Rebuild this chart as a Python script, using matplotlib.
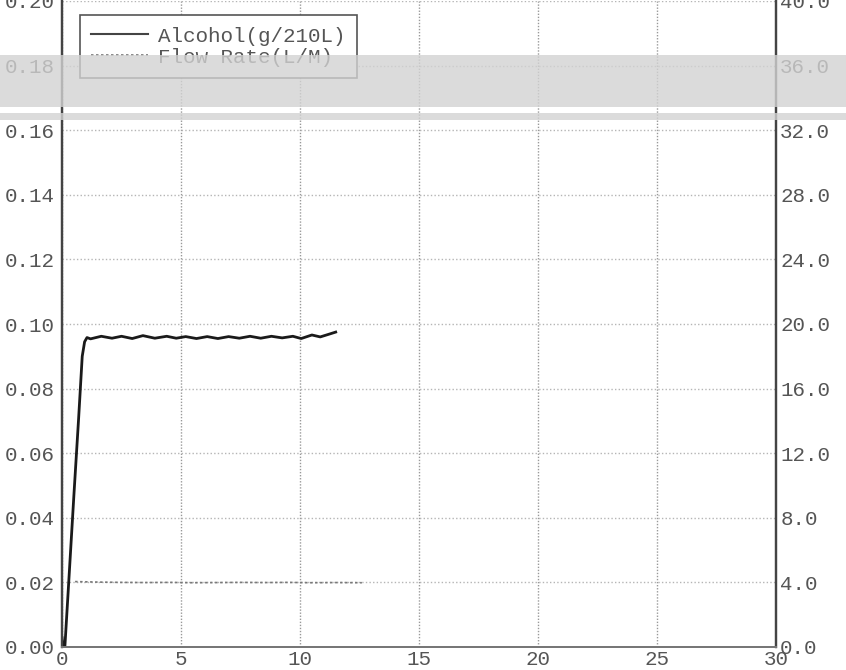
import matplotlib
matplotlib.use("Agg")
import matplotlib.pyplot as plt
from matplotlib.patches import Rectangle

# ---------------- data ----------------
alc_time = [0.0, 0.04, 0.12, 0.27, 0.5, 0.7, 0.85, 0.95, 1.05, 1.2,
            1.65, 2.1, 2.5, 2.95, 3.4, 3.9, 4.4, 4.8, 5.2, 5.65, 6.1, 6.55,
            7.0, 7.45, 7.9, 8.35, 8.8, 9.25, 9.7, 10.05, 10.5, 10.85, 11.2, 11.5]
alc_vals = [0.003, 0.0, 0.0, 0.0185, 0.047, 0.071, 0.090, 0.0945, 0.0958, 0.0954,
            0.0962, 0.0956, 0.0962, 0.0955, 0.0964, 0.0956, 0.0962, 0.0956, 0.0961, 0.0955,
            0.0961, 0.0955, 0.0961, 0.0956, 0.0962, 0.0956, 0.0962, 0.0957, 0.0962, 0.0955,
            0.0966, 0.0960, 0.0968, 0.0975]

flow_time = [0.55, 1.5, 2.5, 3.5, 4.5, 5.5, 6.5, 7.5, 8.5, 9.5, 10.5, 11.5, 12.6]
flow_vals = [4.05, 4.02, 4.00, 3.99, 4.00, 3.98, 3.99, 4.00, 3.99, 4.00, 3.98, 3.99, 3.98]

x_ticks = [0, 5, 10, 15, 20, 25, 30]
left_ticks = [0.00, 0.02, 0.04, 0.06, 0.08, 0.10, 0.12, 0.14, 0.16, 0.18, 0.20]
right_ticks = [0.0, 4.0, 8.0, 12.0, 16.0, 20.0, 24.0, 28.0, 32.0, 36.0, 40.0]
labels = ["Alcohol(g/210L)", "Flow Rate(L/M)"]

# ---------------- figure ----------------
mono = ["Liberation Mono", "DejaVu Sans Mono"]
plt.rcParams["font.family"] = mono
txt_col = "#555555"

fig = plt.figure(figsize=(8.46, 6.70), dpi=100)
ax = fig.add_axes([62 / 846, 1 - 647 / 670, 714 / 846, 646 / 670])
ax2 = ax.twinx()

l1, = ax.plot(alc_time, alc_vals, color="#1a1a1a", lw=2.0, zorder=5)
l2, = ax2.plot(flow_time, flow_vals, color="#777777", lw=1.2, ls=(0, (1.5, 1.5)), zorder=4)

ax.set_xlim(0, 30)
ax.set_ylim(0, 0.20)
ax2.set_ylim(0, 40)

ax.set_xticks(x_ticks)
ax.set_xticklabels([str(t) for t in x_ticks])
ax.set_yticks(left_ticks)
ax.set_yticklabels([f"{v:.2f}" for v in left_ticks])
ax2.set_yticks(right_ticks)
ax2.set_yticklabels([f"{v:.1f}" for v in right_ticks])

for a in (ax, ax2):
    a.tick_params(length=0, labelsize=15, labelcolor=txt_col)
ax.tick_params(axis="y", pad=5)
ax.tick_params(axis="x", pad=2)
ax2.tick_params(axis="y", pad=3)

ax.xaxis.grid(True, color="#999999", lw=1.0, ls=(0, (1, 1.2)))
ax.yaxis.grid(True, color="#b5b5b5", lw=1.0, ls=(0, (1, 1.6)))

for a in (ax, ax2):
    a.spines["top"].set_visible(False)
    a.spines["left"].set_color("#444444")
    a.spines["left"].set_linewidth(1.6)
    a.spines["right"].set_color("#444444")
    a.spines["right"].set_linewidth(1.6)
    a.spines["bottom"].set_color("#777777")
    a.spines["bottom"].set_linewidth(1.4)

leg = ax2.legend([l1, l2], labels, loc="upper left",
                 bbox_to_anchor=(0.025, 0.978), borderaxespad=0,
                 fancybox=False, framealpha=1, edgecolor="#555555",
                 prop={"family": mono, "size": 15},
                 handlelength=2.7, handletextpad=0.5, labelspacing=0.1,
                 borderpad=0.55)
leg.get_frame().set_linewidth(1.2)
for t in leg.get_texts():
    t.set_color(txt_col)
leg.legend_handles[0].set_color("#444444")
leg.legend_handles[0].set_linewidth(1.5)

# scanning band artefact
fig.add_artist(Rectangle((0, 1 - 107 / 670), 1, 52 / 670, transform=fig.transFigure,
                         facecolor="#d2d2d2", alpha=0.8, edgecolor="none", zorder=10))
fig.add_artist(Rectangle((0, 1 - 120 / 670), 1, 7 / 670, transform=fig.transFigure,
                         facecolor="#d2d2d2", alpha=0.8, edgecolor="none", zorder=10))

fig.savefig("out.png", dpi=100)
